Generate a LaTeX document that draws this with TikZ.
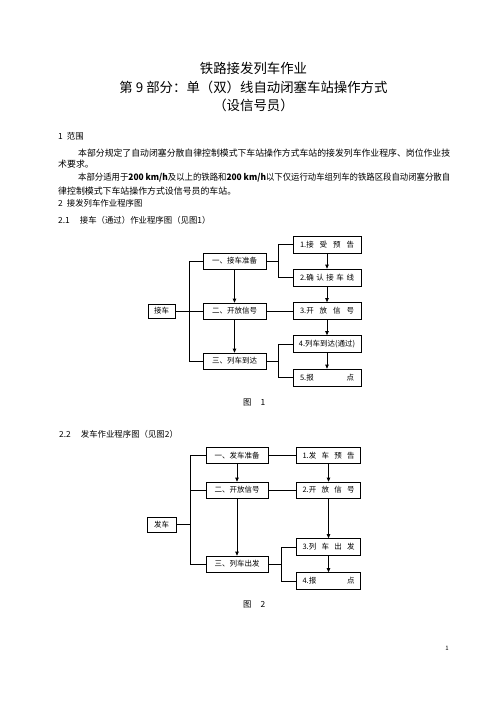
\documentclass[tikz,border=0pt]{standalone}
\usepackage{fontspec}
\usepackage{graphicx}
\setmainfont{Noto Sans CJK SC}
\usetikzlibrary{arrows.meta}

\tikzset{
	box/.style={draw, line width=0.8pt, inner sep=0pt, font=\fontsize{7.5}{8}\selectfont},
	lbox/.style={box, minimum width=63pt, minimum height=16pt},
	rbox/.style={box, minimum width=68pt, minimum height=17pt},
	body/.style={anchor=west, inner sep=0pt, font=\fontsize{8.9}{10}\selectfont},
	head/.style={anchor=west, inner sep=0pt, font=\fontsize{8.4}{9}\selectfont},
	title/.style={inner sep=0pt, font=\fontsize{13.4}{15}\selectfont},
	ln/.style={line width=0.8pt},
	arr/.style={-{Triangle[length=4pt,width=3.6pt]}, line width=0.8pt},
}
\newcommand{\spread}[2]{\makebox[#1][s]{#2}}
\newcommand{\fitline}[1]{\resizebox{372pt}{\height}{\mbox{#1}}}

\begin{document}
\begin{tikzpicture}[x=1pt,y=-1pt]
		%%%%% START %%%%%
		\useasboundingbox (0,0) rectangle (496,702);
		
		% title
		\node[title] (t1) at (253.5, 68) {铁路接发列车作业};
		\node[title] (t2) at (253.5, 87) {第 9 部分：单（双）线自动闭塞车站操作方式};
		\node[title] (t3) at (253.5, 105.5) {（设信号员）};
		
		% text
		\node[head] (h1) at (58, 136) {1\hspace{4pt}范围};
		\node[body] (p1) at (78, 153) {\fitline{本部分规定了自动闭塞分散自律控制模式下车站操作方式车站的接发列车作业程序、岗位作业技}};
		\node[body] (p2) at (58, 164) {术要求。};
		\node[body] (p3) at (78, 177.5) {\fitline{本部分适用于\textbf{200 km/h}及以上的铁路和\textbf{200 km/h}以下仅运行动车组列车的铁路区段自动闭塞分散自}};
		\node[body] (p4) at (58, 191) {律控制模式下车站操作方式设信号员的车站。};
		\node[head] (h2) at (58, 203.5) {2\hspace{4pt}接发列车作业程序图};
		\node[head] (h21) at (58, 220) {2.1\hspace{10pt}接车（通过）作业程序图（见图1）};
		\node[head] (h22) at (59, 434) {2.2\hspace{10pt}发车作业程序图（见图2）};
		
		%%%%% receiving %%%%%
		\node[box, minimum width=27pt, minimum height=14pt] (jc) at (161.5, 311) {接车};
		\node[lbox] (jA) at (234.5, 261) {一、接车准备};
		\node[lbox] (jB) at (234.5, 311) {二、开放信号};
		\node[lbox] (jC) at (234.5, 361) {三、列车到达};
		\node[rbox] (j1) at (327, 244.5) {\spread{54pt}{1.接\hfill 受\hfill 预\hfill 告}};
		\node[rbox] (j2) at (327, 277.5) {\spread{54pt}{2.确\hfill 认\hfill 接\hfill 车\hfill 线}};
		\node[rbox] (j3) at (327, 311) {\spread{54pt}{3.开\hfill 放\hfill 信\hfill 号}};
		\node[rbox] (j4) at (327, 344) {4.列车到达(通过)};
		\node[rbox] (j5) at (327, 377.5) {\spread{54pt}{5.报\hfill 点}};
		
		\draw[ln] (jc.east) -- (jB.west);
		\draw[ln] (jA.west) -- ++(-13,0) |- (jC.west);
		\draw[ln] (jA.east) -- ++(13,0);
		\draw[ln] (j1.west) -- ++(-14,0) |- (j2.west);
		\draw[ln] (jB.east) -- (j3.west);
		\draw[ln] (jC.east) -- ++(13,0);
		\draw[ln] (j4.west) -- ++(-14,0) |- (j5.west);
		
		\draw[arr] (jA) -- (jB);
		\draw[arr] (jB) -- (jC);
		\draw[arr] (j1) -- (j2);
		\draw[arr] (j2) -- (j3);
		\draw[arr] (j3) -- (j4);
		\draw[arr] (j4) -- (j5);
		
		\node[head] (cap1) at (243, 402) {图\hspace{9pt}1};
		
		%%%%% departing %%%%%
		\node[box, minimum width=29pt, minimum height=15pt] (fc) at (161.5, 524.5) {发车};
		\node[lbox, minimum width=62pt] (fA) at (237, 455.5) {一、发车准备};
		\node[lbox, minimum width=62pt] (fB) at (237, 490) {二、开放信号};
		\node[lbox, minimum width=62pt] (fC) at (237, 564) {三、列车出发};
		\node[rbox, minimum width=64pt, minimum height=16pt] (f1) at (328.5, 455.5) {\spread{52pt}{1.发\hfill 车\hfill 预\hfill 告}};
		\node[rbox, minimum width=64pt, minimum height=16pt] (f2) at (328.5, 490) {\spread{52pt}{2.开\hfill 放\hfill 信\hfill 号}};
		\node[rbox, minimum width=64pt] (f3) at (328.5, 547) {\spread{52pt}{3.列\hfill 车\hfill 出\hfill 发}};
		\node[rbox, minimum width=64pt] (f4) at (328.5, 581) {\spread{52pt}{4.报\hfill 点}};
		
		\draw[ln] (fc.east) -- ++(15,0);
		\draw[ln] (fA.west) -- ++(-15,0) |- (fC.west);
		\draw[ln] (fB.west) -- ++(-15,0);
		\draw[ln] (fA.east) -- (f1.west);
		\draw[ln] (fB.east) -- (f2.west);
		\draw[ln] (fC.east) -- ++(14,0);
		\draw[ln] (f3.west) -- ++(-14.5,0) |- (f4.west);
		
		\draw[arr] (fA) -- (fB);
		\draw[arr] (fB) -- (fC);
		\draw[arr] (f1) -- (f2);
		\draw[arr] (f2) -- (f3);
		\draw[arr] (f3) -- (f4);
		
		\node[head] (cap2) at (243, 604) {图\hspace{9pt}2};
		
		\node[inner sep=0pt, font=\fontsize{6}{7}\selectfont] (pg) at (447, 648) {1};
		%%%%% END %%%%%
\end{tikzpicture}
\end{document}
